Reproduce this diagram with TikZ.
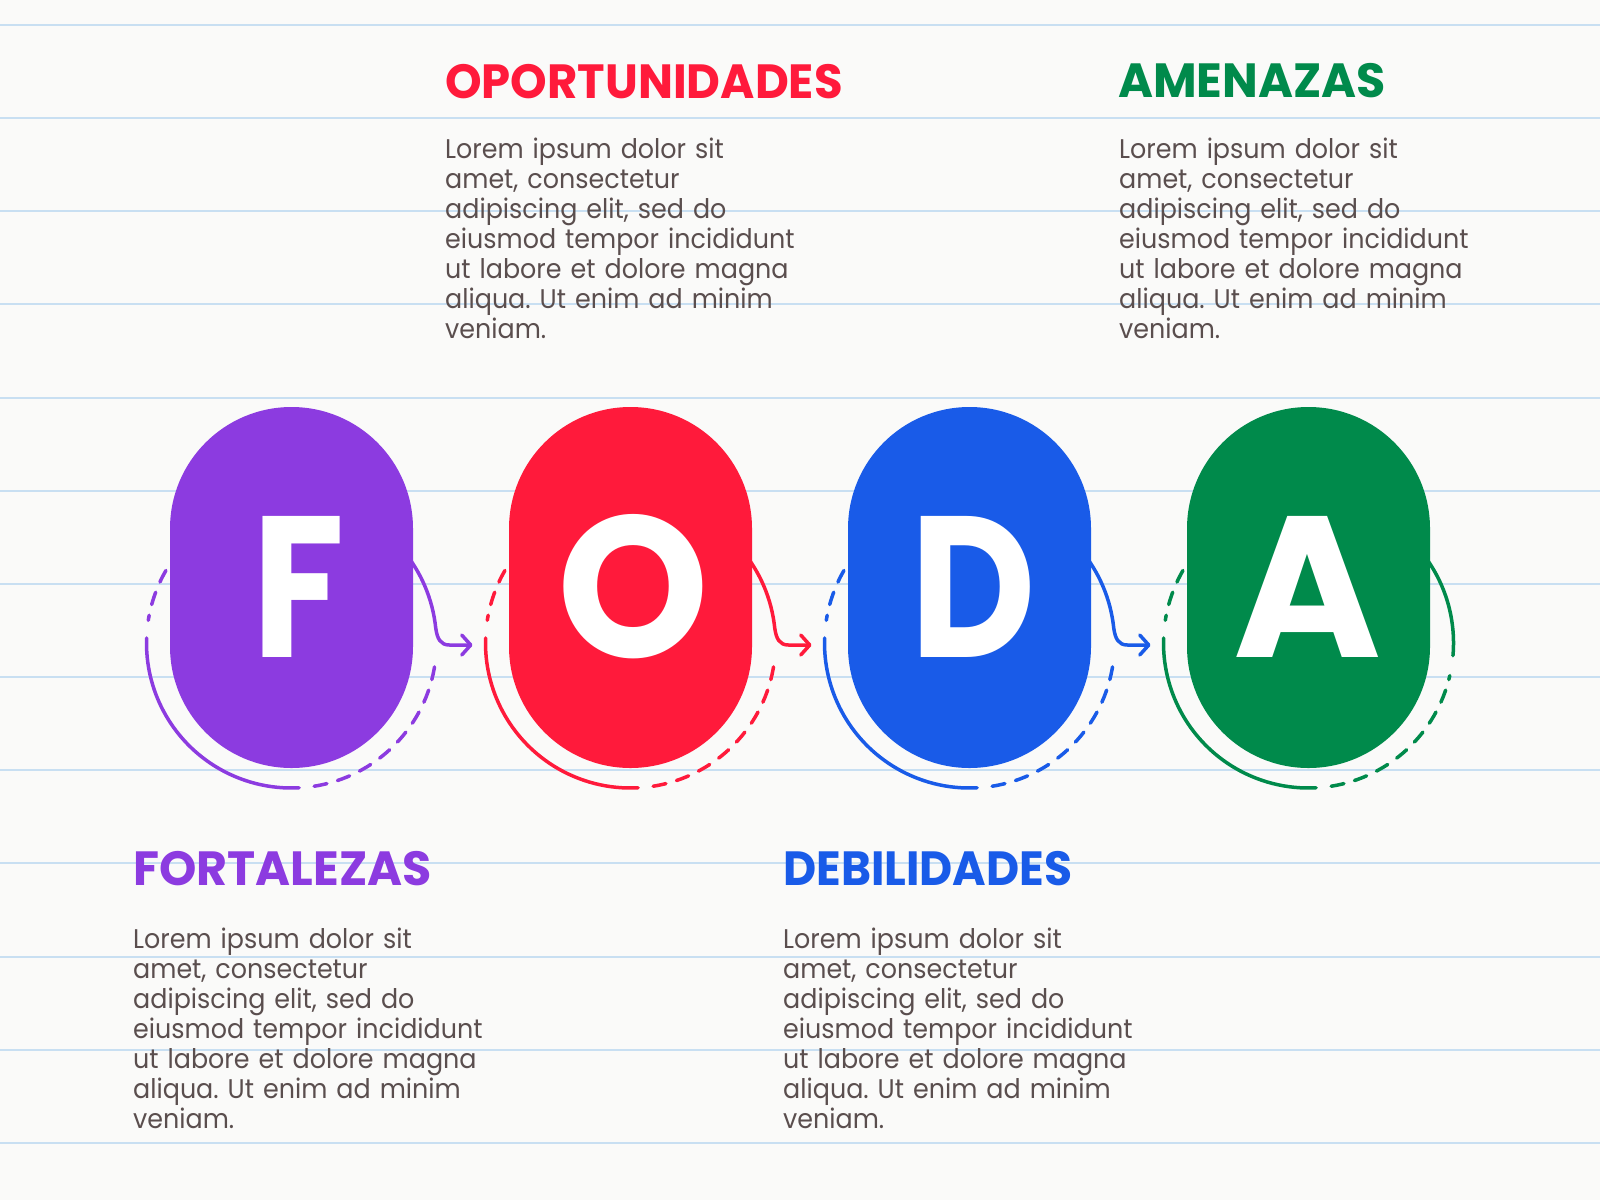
\documentclass[tikz,border=0pt]{standalone}
\usepackage{fontspec}
\setmainfont{Poppins}
\newfontfamily\bodyfont[FakeStretch=0.94]{Poppins}
\usetikzlibrary{arrows.meta,calc}
\definecolor{cF}{HTML}{8C3BE0}
\definecolor{cO}{HTML}{FF1A3B}
\definecolor{cD}{HTML}{195BE8}
\definecolor{cA}{HTML}{008A4B}
\definecolor{txt}{HTML}{5A4E4E}
\definecolor{ruleblue}{HTML}{C8DFF2}
\definecolor{paper}{HTML}{FAFAF9}
\frenchspacing
\begin{document}
\begin{tikzpicture}[x=1pt,y=-1pt,
  title/.style={anchor=base west,inner sep=0pt,font=\bfseries\fontsize{48}{50}\selectfont},
  body/.style={anchor=north west,inner sep=0pt,text=txt,align=left,text width=420pt,
    font=\bodyfont\fontsize{27}{30}\selectfont},
  letter/.style={anchor=base,inner sep=0pt,text=white,font=\bfseries\fontsize{201}{201}\selectfont},
  ring/.style={line width=3.5pt,line cap=round},
  ringdash/.style={ring,dash pattern=on 13pt off 11pt},
  flow/.style={ring,-{Straight Barb[length=9pt,width=20pt,round]}}
]
\useasboundingbox (0,0) rectangle (1600,1200);
\fill[paper] (0,0) rectangle (1600,1200);
% ruled paper lines
\foreach \k in {0,...,12}{
  \draw[ruleblue,line width=2pt] (0,{24.8+93.18*\k}) -- (1600,{24.8+93.18*\k});
}
% centres
\coordinate (pF) at (291.5,643);
\coordinate (pO) at (630.5,643);
\coordinate (pD) at (969.5,643);
\coordinate (pA) at (1308.5,643);
% rings with arrows
\foreach \c/\col in {pF/cF,pO/cO,pD/cD}{
  \draw[ringdash,\col] ([shift={(210:145)}]\c) arc[start angle=210,end angle=189,radius=145];
  \draw[ring,\col] ([shift={(182:145)}]\c) arc[start angle=182,end angle=87,radius=145];
  \draw[ringdash,\col] ([shift={(81:145)}]\c) arc[start angle=81,end angle=8,radius=145];
  \draw[flow,\col] ([shift={(-40:145)}]\c) arc[start angle=-40,end angle=-6,radius=145]
     .. controls +(1.5,11) and +(-9,0) .. ($(\c)+(158,2)$) -- ($(\c)+(181,2)$);
}
\draw[ringdash,cA] ([shift={(210:145)}]pA) arc[start angle=210,end angle=189,radius=145];
\draw[ring,cA] ([shift={(182:145)}]pA) arc[start angle=182,end angle=87,radius=145];
\draw[ringdash,cA] ([shift={(81:145)}]pA) arc[start angle=81,end angle=13,radius=145];
\draw[ring,cA] ([shift={(-40:145)}]pA) arc[start angle=-40,end angle=5,radius=145];
% pills
\foreach \x/\col in {291.5/cF,630.5/cO,969.5/cD,1308.5/cA}{
  \fill[\col] ({\x-121.5},528.5) arc[start angle=180,end angle=360,radius=121.5]
     -- ({\x+121.5},646.5) arc[start angle=0,end angle=180,radius=121.5] -- cycle;
}
\node[letter] (F) at (298.5,657) {\scalebox{0.84}[1]{F}};
\node[letter] (O) at (633.5,657) {\scalebox{0.96}[1]{O}};
\node[letter] (D) at (973.5,657) {\scalebox{0.86}[1]{D}};
\node[letter] (A) at (1307.5,657) {A};
% titles
\node[title,text=cO] (tO) at (445,98) {\scalebox{0.97}[1]{OPORTUNIDADES}};
\node[title,text=cA] (tA) at (1118,97) {\scalebox{0.99}[1]{AMENAZAS}};
\node[title,text=cF] (tF) at (133,885) {\scalebox{0.99}[1]{FORTALEZAS}};
\node[title,text=cD] (tD) at (783,885) {\scalebox{0.95}[1]{DEBILIDADES}};
% bodies
\newcommand{\lorembody}{\rule{0pt}{25pt}Lorem ipsum dolor sit\\amet, consectetur\\adipiscing elit, sed do\\eiusmod tempor incididunt\\ut labore et dolore magna\\aliqua. Ut enim ad minim\\veniam.}
\node[body] (bO) at (445,133) {\lorembody};
\node[body] (bA) at (1119,133) {\lorembody};
\node[body] (bF) at (133,923) {\lorembody};
\node[body] (bD) at (783,923) {\lorembody};
\end{tikzpicture}
\end{document}
